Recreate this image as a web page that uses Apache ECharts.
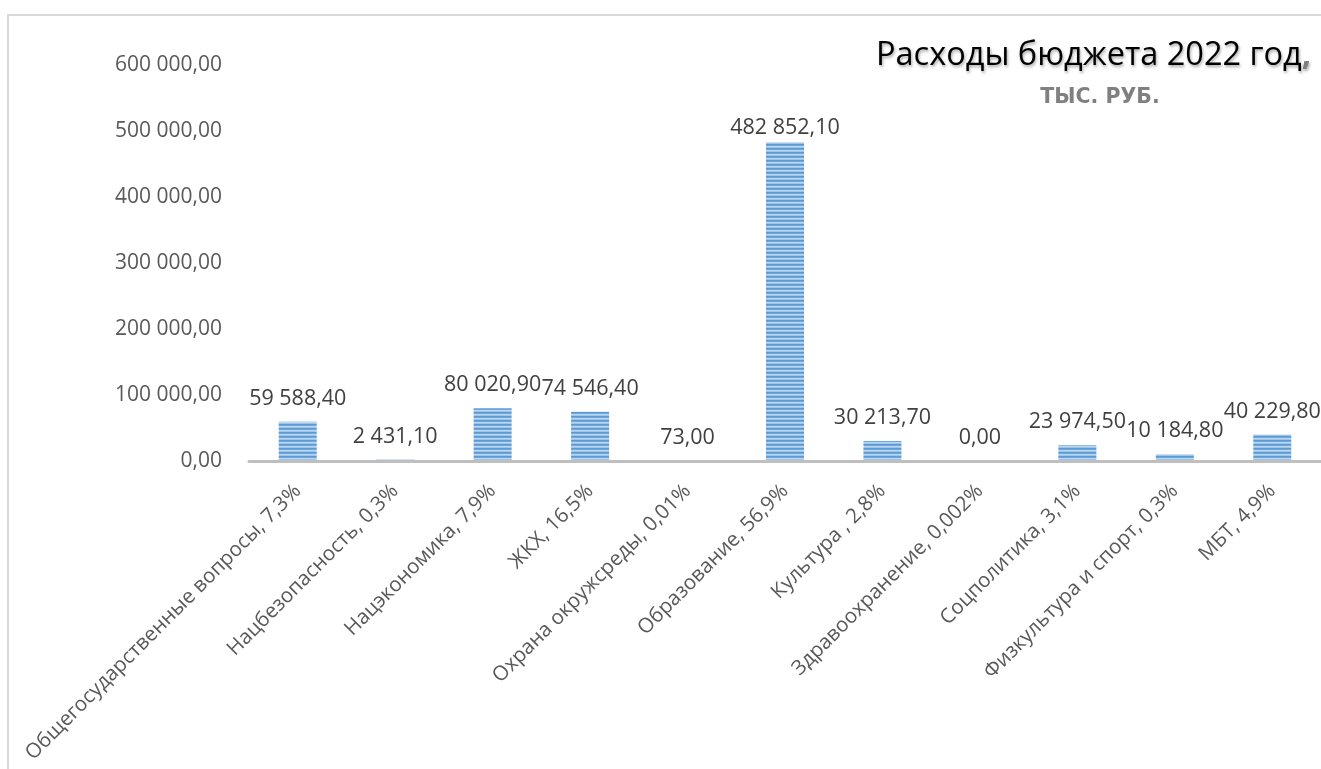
<!DOCTYPE html>
<html>
<head>
<meta charset="utf-8">
<script src="https://cdn.jsdelivr.net/npm/echarts@6/dist/echarts.min.js"></script>
<style>
  html, body { margin: 0; padding: 0; background: #ffffff; overflow: hidden; }
  #chart { position: fixed; left: 0; top: 0; width: 1321px; height: 769px; }
</style>
</head>
<body>
<div id="chart"></div>
<script>
const categories = [
  'Общегосударственные вопросы, 7,3%',
  'Нацбезопасность, 0,3%',
  'Нацэкономика, 7,9%',
  'ЖКХ, 16,5%',
  'Охрана окружсреды, 0,01%',
  'Образование, 56,9%',
  'Культура , 2,8%',
  'Здравоохранение, 0,002%',
  'Соцполитика, 3,1%',
  'Физкультура и спорт, 0,3%',
  'МБТ, 4,9%'
];
const expenses = [59588.40, 2431.10, 80020.90, 74546.40, 73.00, 482852.10, 30213.70, 0.00, 23974.50, 10184.80, 40229.80];
const yMin = 0;
const yMax = 600000;
const yStep = 100000;
const titleText = 'Расходы бюджета 2022 год';
const subtitleText = 'ТЫС. РУБ.';

function fmt(v) {
  const parts = Number(v).toFixed(2).split('.');
  parts[0] = parts[0].replace(/\B(?=(\d{3})+(?!\d))/g, ' ');
  return parts[0] + ',' + parts[1];
}

// striped fill pattern
const pat = document.createElement('canvas');
pat.width = 4; pat.height = 4;
const pc = pat.getContext('2d');
const rows = ['#5b9bd5', '#6fa7db', '#bcd6ef', '#9fc4e8'];
rows.forEach((c, i) => { pc.fillStyle = c; pc.fillRect(0, i, 4, 1); });

const peak = Math.max(...expenses);
const barData = expenses.map(v => v === peak ? { value: v, label: { distance: 3 } } : v);

const FONT = "'Open Sans', 'Noto Sans', sans-serif";
const chart = echarts.init(document.getElementById('chart'));
chart.setOption({
  animation: false,
  backgroundColor: '#ffffff',
  grid: { left: 249, top: 65, right: 0, height: 396, containLabel: false },
  xAxis: {
    type: 'category',
    data: categories,
    z: 5,
    axisLine: { show: true, lineStyle: { color: '#bfbfbf', width: 3 } },
    axisTick: { show: false },
    axisLabel: { rotate: 45, margin: 27, color: '#595959', fontSize: 20.5, fontFamily: FONT, interval: 0 }
  },
  yAxis: {
    type: 'value',
    min: yMin, max: yMax, interval: yStep,
    axisLine: { show: false },
    axisTick: { show: false },
    splitLine: { show: false },
    axisLabel: { margin: 27, color: '#595959', fontSize: 21, fontFamily: FONT, formatter: fmt }
  },
  series: [{
    type: 'bar',
    data: barData,
    barWidth: 38,
    itemStyle: { color: { image: pat, repeat: 'repeat' } },
    label: {
      show: true, position: 'top', distance: 12,
      color: '#404040', fontSize: 21.5, fontFamily: FONT,
      formatter: p => fmt(p.value)
    }
  }],
  graphic: [
    {
      type: 'polyline', silent: true,
      shape: { points: [[8, 769], [8, 15], [1321, 15]] },
      style: { stroke: '#d9d9d9', lineWidth: 2, fill: null }
    },
    {
      type: 'text', x: 1311, y: 56,
      style: {
        text: titleText + '{c|,}',
        align: 'right', verticalAlign: 'middle',
        fill: '#000000', fontSize: 32.5, fontFamily: FONT,
        textShadowColor: 'rgba(0,0,0,0.35)', textShadowBlur: 3, textShadowOffsetX: 1, textShadowOffsetY: 2,
        rich: { c: { fill: '#7f7f7f', fontSize: 32.5, fontFamily: FONT, fontWeight: 'bold' } }
      }
    },
    {
      type: 'text', x: 1100, y: 98,
      style: {
        text: subtitleText,
        align: 'center', verticalAlign: 'middle',
        fill: '#808080', fontSize: 20.5, fontWeight: 'bold', fontFamily: "'DejaVu Sans', sans-serif"
      }
    }
  ]
});
</script>
</body>
</html>
